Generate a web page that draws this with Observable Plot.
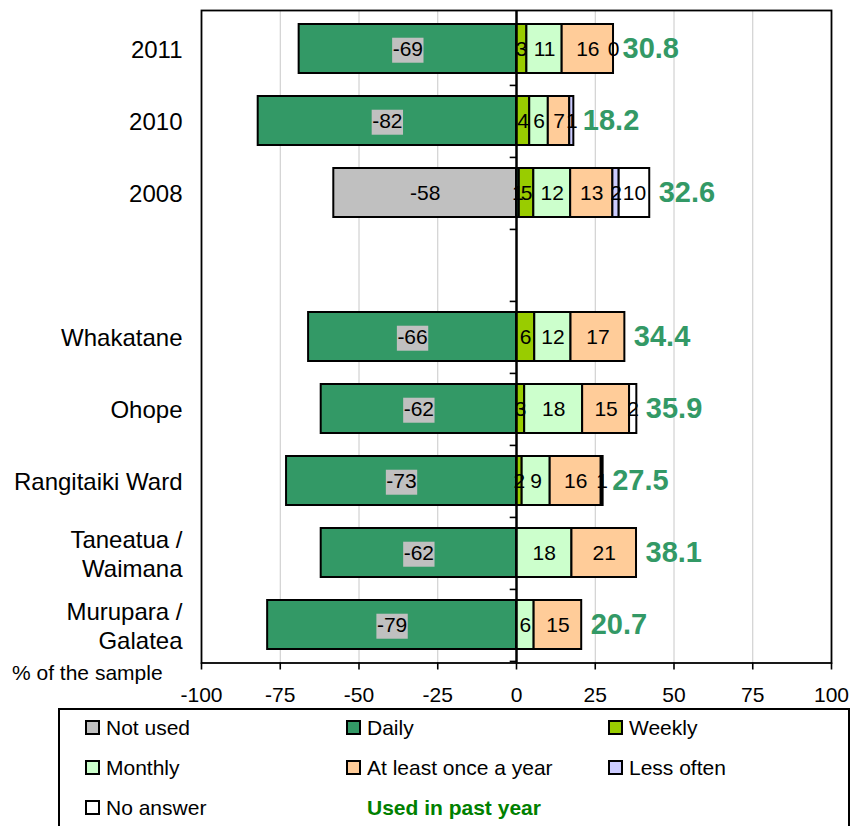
<!DOCTYPE html>
<html><head><meta charset="utf-8">
<script src="https://cdn.jsdelivr.net/npm/d3@7"></script>
<script src="https://cdn.jsdelivr.net/npm/@observablehq/plot@0.6"></script>
<style>
body{margin:0;background:#fff;font-family:"Liberation Sans",Arial,sans-serif;}
#wrap{position:relative;width:863px;height:826px;overflow:hidden;background:#fff;}
#wrap svg{display:block;}
#ylab{position:absolute;left:12px;top:661px;font-size:21px;line-height:24px;color:#000;}
#legend{position:absolute;left:58px;top:708px;width:788px;height:140px;border:2px solid #000;box-sizing:content-box;}
.li{position:absolute;font-size:21px;line-height:24px;white-space:nowrap;color:#000;}
.sw{display:inline-block;width:11px;height:11px;border:2px solid #000;vertical-align:middle;margin-right:6px;position:relative;top:-2px;}
</style></head><body><div id="wrap"></div>
<script>
const categories = ["2011","2010","2008","gap","Whakatane","Ohope","Rangitaiki Ward","Taneatua / Waimana","Murupara / Galatea"];
const categoryLabels = ["2011","2010","2008","","Whakatane","Ohope","Rangitaiki Ward","Taneatua /\nWaimana","Murupara /\nGalatea"];
const rows = ["2011","2010","2008","Whakatane","Ohope","Rangitaiki Ward","Taneatua / Waimana","Murupara / Galatea"];
const notUsed   = [null, null, -58, null, null, null, null, null];
const daily     = [-69, -82, 0.9, -66, -62, -73, -62, -79];
const weekly    = [3.3, 4.2, 4.6, 5.8, 2.6, 1.8, null, null];
const monthly   = [11.2, 5.9, 11.7, 11.5, 18.4, 8.9, 17.6, 5.6];
const annual    = [16.3, 6.8, 13.4, 17.1, 14.9, 16.2, 20.5, 15.1];
const lessOften = [0, 1.3, 2.0, null, null, 0.6, null, null];
const noAnswer  = [null, null, 9.7, null, 2.3, null, null, null];
const usedPastYear = [30.8, 18.2, 32.6, 34.4, 35.9, 27.5, 38.1, 20.7];
const seriesNames = ["Not used","Daily","Weekly","Monthly","At least once a year","Less often","No answer"];
const seriesColors = ["#C0C0C0","#339966","#99CC00","#CCFFCC","#FFCC99","#CCCCFF","#FFFFFF"];
const xTicks = [-100,-75,-50,-25,0,25,50,75,100];
const gridTicks = [-75,-50,-25,25,50,75];
const usedLabel = "Used in past year";
const yTitle = "% of the sample";

const seriesValues = [notUsed, daily, weekly, monthly, annual, lessOften, noAnswer];
const table = [];
seriesNames.forEach((s, si) => {
  rows.forEach((r, ri) => {
    const v = seriesValues[si][ri];
    if (v !== null && v !== undefined) table.push({cat: r, series: s, value: v});
  });
});
const labelOf = new Map(categories.map((c, i) => [c, categoryLabels[i]]));
const posTotal = rows.map((r, ri) => seriesValues.reduce((a, arr) => a + (arr[ri] > 0 ? arr[ri] : 0), 0));
const usedTable = rows.map((r, i) => ({cat: r, end: posTotal[i], used: usedPastYear[i]}));

const W = 863, H = 706, mT = 10, mB = 43.5, mL = 201, mR = 32;
const pIn = 0.32, pOut = 0.14;
const step = (H - mT - mB) / (categories.length - pIn + 2 * pOut);
const fmt = v => String(Math.round(v));

const chart = Plot.plot({
  width: W, height: H,
  marginTop: mT, marginBottom: mB, marginLeft: mL, marginRight: mR,
  style: {fontFamily: "'Liberation Sans', Arial, sans-serif", fontSize: "21px", color: "#000", background: "#fff", overflow: "visible"},
  x: {domain: [-100, 100], label: null},
  y: {domain: categories, paddingInner: pIn, paddingOuter: pOut, align: 0.5, label: null},
  color: {domain: seriesNames, range: seriesColors},
  marks: [
    Plot.ruleX(gridTicks, {stroke: "#c8c8c8", strokeWidth: 1}),
    Plot.barX(table, {x: "value", y: "cat", fill: "series", stroke: "#000", strokeWidth: 2}),
    Plot.ruleX([0], {stroke: "#000", strokeWidth: 2.5}),
    Plot.ruleY(categories, {y: d => d, x1: -2, x2: 0, dy: step / 2, stroke: "#000", strokeWidth: 1.6}),
    Plot.text(table, Plot.stackX({x: "value", y: "cat", text: d => fmt(d.value), fill: "#000", fontSize: 21, filter: d => d.value < 0, className: "neglab"})),
    Plot.text(table, Plot.stackX({x: "value", y: "cat", text: d => fmt(d.value), fill: "#000", fontSize: 21, filter: d => d.value >= 0})),
    Plot.text(usedTable, {x: "end", y: "cat", text: d => d.used.toFixed(1), dx: 9, textAnchor: "start", fill: "#339966", fontWeight: "bold", fontSize: 29}),
    Plot.frame({stroke: "#000", strokeWidth: 1.8}),
    Plot.axisX({ticks: xTicks, tickSize: 7, tickPadding: 17, fontSize: 21, tickFormat: d => String(d), stroke: "#000", strokeWidth: 1.6, label: null}),
    Plot.axisY({tickSize: 0, tickPadding: 19, fontSize: 24, lineHeight: 1.2, tickFormat: d => labelOf.get(d), label: null})
  ]
});
const wrap = document.getElementById("wrap");
wrap.appendChild(chart);

// grey boxes behind the negative-bar labels
chart.querySelectorAll("g.neglab text").forEach(t => {
  const b = t.getBBox();
  const r = document.createElementNS("http://www.w3.org/2000/svg", "rect");
  r.setAttribute("x", b.x - 0.5);
  r.setAttribute("y", b.y + 1);
  r.setAttribute("width", b.width + 1);
  r.setAttribute("height", b.height + 2);
  r.setAttribute("fill", "#C0C0C0");
  if (t.getAttribute("transform")) r.setAttribute("transform", t.getAttribute("transform"));
  t.parentNode.insertBefore(r, t);
});

const yl = document.createElement("div");
yl.id = "ylab"; yl.textContent = yTitle; wrap.appendChild(yl);

const lg = document.createElement("div");
lg.id = "legend"; wrap.appendChild(lg);
const colX = [25, 286, 548], rowY = [6, 46, 86];
const items = seriesNames.map((n, i) => ({name: n, color: seriesColors[i]}));
items.forEach((it, i) => {
  const d = document.createElement("div");
  d.className = "li";
  d.style.left = colX[i % 3] + "px";
  d.style.top = rowY[Math.floor(i / 3)] + "px";
  const s = document.createElement("span");
  s.className = "sw"; s.style.background = it.color;
  d.appendChild(s);
  d.appendChild(document.createTextNode(it.name));
  lg.appendChild(d);
});
const u = document.createElement("div");
u.className = "li";
u.style.left = (colX[1] + 21) + "px";
u.style.top = rowY[2] + "px";
u.style.fontWeight = "bold";
u.style.color = "#008000";
u.textContent = usedLabel;
lg.appendChild(u);
</script></body></html>
